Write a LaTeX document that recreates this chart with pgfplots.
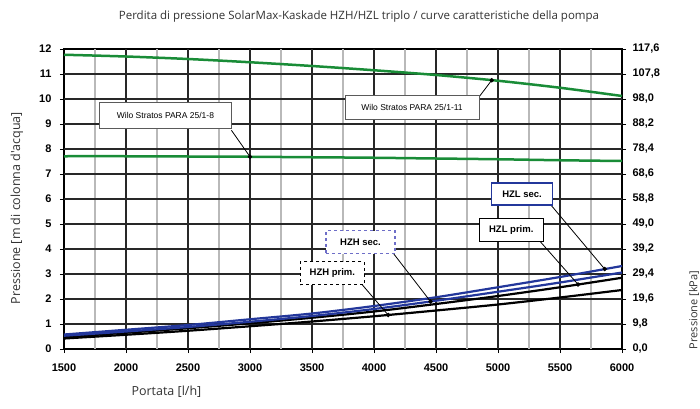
\documentclass[border=0pt]{standalone}
\usepackage{pgfplots}
\pgfplotsset{compat=1.18}
\usepackage{fontspec}
\setmainfont{Liberation Sans}
\newfontfamily\lightfont{Open Sans}
\definecolor{wgreen}{RGB}{25,140,55}
\definecolor{wblue}{RGB}{35,55,155}
\definecolor{lblue}{RGB}{110,110,200}
\definecolor{minorgray}{RGB}{185,185,185}
\definecolor{majorgrid}{RGB}{40,40,40}
\definecolor{txtgray}{RGB}{50,50,50}
\definecolor{boxgray}{RGB}{90,90,90}
\pgfplotsset{mj/.style={majorgrid, line width=1.2pt, forget plot}, mn/.style={minorgray, line width=1.1pt, forget plot}}
\begin{document}
\begin{tikzpicture}
\path[use as bounding box] (-64pt,-59pt) rectangle (636pt,349pt);
\begin{axis}[
 at={(0pt,0pt)}, anchor=south west,
 scale only axis, width=558pt, height=300pt,
 xmin=1500, xmax=6000, ymin=0, ymax=117.6,
 axis x line=none, axis y line*=right,
 axis line style={black, line width=1.2pt, -},
 ytick={0,9.8,19.6,29.4,39.2,49,58.8,68.6,78.4,88.2,98,107.8,117.6},
 yticklabels={{0,0},{9,8},{19,6},{29,4},{39,2},{49,0},{58,8},{68,6},{78,4},{88,2},{98,0},{107,8},{117,6}},
 tick align=center, major tick length=8pt,
 tick style={black, line width=1pt},
 ticklabel style={font=\fontsize{11}{13}\selectfont\bfseries},
 yticklabel style={xshift=3pt},
]
\end{axis}
\begin{axis}[
 at={(0pt,0pt)}, anchor=south west,
 scale only axis, width=558pt, height=300pt,
 xmin=1500, xmax=6000, ymin=0, ymax=12,
 xtick={1500,2000,...,6000},
 ytick={0,...,12},
 xtick pos=left, ytick pos=left,
 axis line style={black, line width=1.2pt},
 tick align=center, major tick length=8pt,
 major tick style={black, line width=1pt},
 ticklabel style={font=\fontsize{11}{13}\selectfont\bfseries},
 xticklabel style={yshift=-7pt},
 yticklabel style={xshift=-5pt},
 /pgf/number format/1000 sep={},
 /pgf/number format/assume math mode=true,
 clip=false,
]
% minor vertical grid
\addplot[mn] coordinates {(1750,0)(1750,12)};
\addplot[mn] coordinates {(2250,0)(2250,12)};
\addplot[mn] coordinates {(2750,0)(2750,12)};
\addplot[mn] coordinates {(3250,0)(3250,12)};
\addplot[mn] coordinates {(3750,0)(3750,12)};
\addplot[mn] coordinates {(4250,0)(4250,12)};
\addplot[mn] coordinates {(4750,0)(4750,12)};
\addplot[mn] coordinates {(5250,0)(5250,12)};
\addplot[mn] coordinates {(5750,0)(5750,12)};
% major vertical grid
\addplot[mj] coordinates {(2000,0)(2000,12)};
\addplot[mj] coordinates {(2500,0)(2500,12)};
\addplot[mj] coordinates {(3000,0)(3000,12)};
\addplot[mj] coordinates {(3500,0)(3500,12)};
\addplot[mj] coordinates {(4000,0)(4000,12)};
\addplot[mj] coordinates {(4500,0)(4500,12)};
\addplot[mj] coordinates {(5000,0)(5000,12)};
\addplot[mj] coordinates {(5500,0)(5500,12)};
% horizontal grid
\addplot[mj] coordinates {(1500,1)(6000,1)};
\addplot[mj] coordinates {(1500,2)(6000,2)};
\addplot[mj] coordinates {(1500,3)(6000,3)};
\addplot[mj] coordinates {(1500,4)(6000,4)};
\addplot[mj] coordinates {(1500,5)(6000,5)};
\addplot[mj] coordinates {(1500,6)(6000,6)};
\addplot[mj] coordinates {(1500,7)(6000,7)};
\addplot[mj] coordinates {(1500,8)(6000,8)};
\addplot[mj] coordinates {(1500,9)(6000,9)};
\addplot[mj] coordinates {(1500,10)(6000,10)};
\addplot[mj] coordinates {(1500,11)(6000,11)};
% pump curves
\addplot[wgreen, line width=2.5pt, smooth] coordinates {(1500,11.77)(2000,11.70)(2500,11.60)(3000,11.47)(3500,11.32)(4000,11.15)(4500,10.96)(5000,10.73)(5500,10.45)(6000,10.12)};
\addplot[wgreen, line width=2.5pt, smooth] coordinates {(1500,7.71)(2000,7.71)(2500,7.70)(3000,7.69)(3500,7.67)(4000,7.65)(4500,7.62)(5000,7.59)(5500,7.55)(6000,7.52)};
% pressure loss curves
\addplot[black, line width=2.2pt, smooth] coordinates {(1500,0.42)(2000,0.57)(2500,0.73)(3000,0.91)(3500,1.10)(4000,1.31)(4500,1.54)(5000,1.78)(5500,2.06)(6000,2.36)};
\addplot[black, line width=2.2pt, smooth] coordinates {(1500,0.48)(2000,0.65)(2500,0.83)(3000,1.03)(3500,1.25)(4000,1.50)(4500,1.80)(5000,2.12)(5500,2.47)(6000,2.85)};
\addplot[wblue, line width=2.2pt, smooth] coordinates {(1500,0.53)(2000,0.70)(2500,0.88)(3000,1.09)(3500,1.32)(4000,1.60)(4500,1.93)(5000,2.29)(5500,2.66)(6000,3.06)};
\addplot[wblue, line width=2.2pt, smooth] coordinates {(1500,0.58)(2000,0.77)(2500,0.96)(3000,1.19)(3500,1.42)(4000,1.72)(4500,2.07)(5000,2.47)(5500,2.88)(6000,3.32)};
% connectors
\addplot[black, line width=0.8pt, mark=*, mark size=1.8pt, mark indices={2}] coordinates {(2850,8.75)(3000,7.69)};
\addplot[black, line width=0.8pt, mark=*, mark size=1.8pt, mark indices={2}] coordinates {(4850,10.1)(4949,10.75)};
\addplot[black, line width=0.8pt, mark=*, mark size=1.8pt, mark indices={2}] coordinates {(5420,5.8)(5860,3.20)};
\addplot[black, line width=0.8pt, mark=*, mark size=1.8pt, mark indices={2}] coordinates {(5340,4.3)(5646,2.58)};
\addplot[black, line width=0.8pt, mark=*, mark size=1.8pt, mark indices={2}] coordinates {(4160,3.8)(4456,1.90)};
\addplot[black, line width=0.8pt, mark=*, mark size=1.8pt, mark indices={2}] coordinates {(3900,2.6)(4114,1.36)};
% labels
\node[draw=boxgray, fill=white, line width=0.8pt, minimum width=132pt, minimum height=26pt, inner sep=1pt, font=\fontsize{8.5}{10}\selectfont] at (axis cs:2318,9.35) {Wilo Stratos PARA 25/1-8};
\node[draw=boxgray, fill=white, line width=0.8pt, minimum width=134pt, minimum height=24pt, inner sep=1pt, font=\fontsize{8.5}{10}\selectfont] at (axis cs:4307,9.65) {Wilo Stratos PARA 25/1-11};
\node[draw=wblue, fill=white, line width=1.1pt, minimum width=61pt, minimum height=22pt, inner sep=1pt, font=\fontsize{9.5}{11}\selectfont\bfseries] at (axis cs:5194,6.2) {HZL sec.};
\node[draw=black, fill=white, line width=1.3pt, minimum width=64pt, minimum height=23pt, inner sep=1pt, font=\fontsize{9.5}{11}\selectfont\bfseries] at (axis cs:5107,4.77) {HZL prim.};
\node[draw=lblue, dashed, fill=white, line width=1.1pt, minimum width=69pt, minimum height=23pt, inner sep=1pt, font=\fontsize{9.5}{11}\selectfont\bfseries] at (axis cs:3891,4.27) {HZH sec.};
\node[draw=black, dashed, fill=white, line width=1.1pt, minimum width=64pt, minimum height=23pt, inner sep=1pt, font=\fontsize{9.5}{11}\selectfont\bfseries] at (axis cs:3664,3.03) {HZH prim.};
\end{axis}
\node[font=\lightfont\fontsize{11.5}{13}\selectfont, text=txtgray] at (295pt,332pt) {Perdita di pressione SolarMax-Kaskade HZH/HZL triplo / curve caratteristiche della pompa};
\node[rotate=90, font=\lightfont\fontsize{12.5}{14}\selectfont, text=txtgray] at (-47pt,141pt) {Pressione [m di colonna d'acqua]};
\node[rotate=90, font=\lightfont\fontsize{11}{13}\selectfont, text=txtgray] at (630pt,39pt) {Pressione [kPa]};
\node[anchor=west, font=\lightfont\fontsize{12.5}{14}\selectfont, text=txtgray] at (64pt,-43pt) {Portata [l/h]};
\end{tikzpicture}
\end{document}
